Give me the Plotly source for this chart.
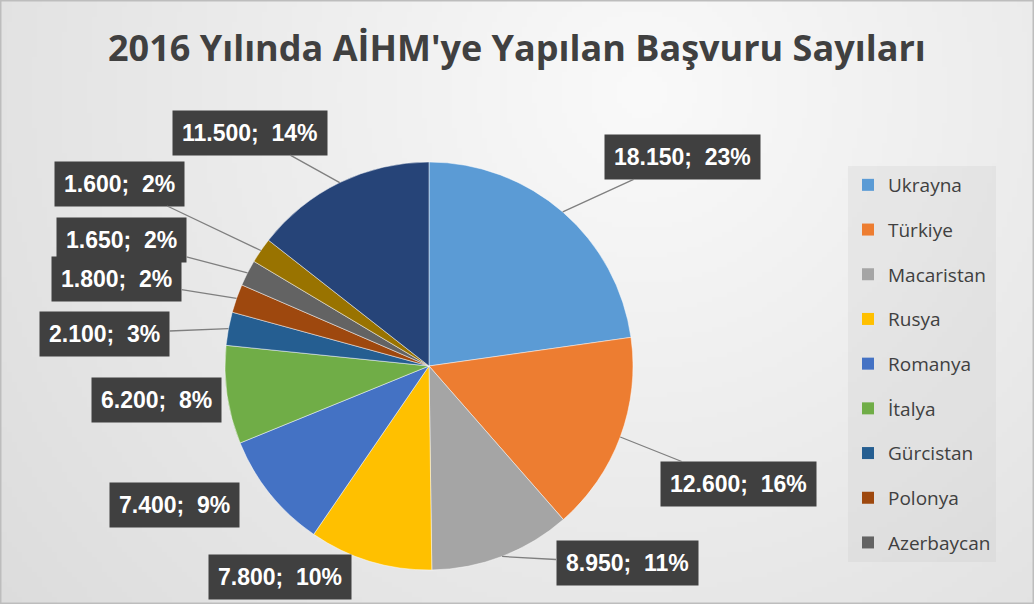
import math, zlib, struct, base64
import numpy as np
import plotly.graph_objects as go

# ---- data ----
countries = ["Ukrayna", "Türkiye", "Macaristan", "Rusya", "Romanya", "İtalya",
             "Gürcistan", "Polonya", "Azerbaycan", "Ermenistan", "Diğer"]
applications = [18150, 12600, 8950, 7800, 7400, 6200, 2100, 1800, 1650, 1600, 11500]
colors = ["#5B9BD5", "#ED7D31", "#A5A5A5", "#FFC000", "#4472C4", "#70AD47",
          "#255E91", "#9E480E", "#636363", "#997300", "#264478"]
legend_count = 9  # reference legend shows the first nine entries
title = "2016 Yılında AİHM'ye Yapılan Başvuru Sayıları"

# label offsets (pixels from slice edge anchor to label centre) and leader visibility
label_dx = [120, 118, 125, -90, -96, -71, -124, -120, -126, -141, -90]
label_dy = [-55, 47, 7, 16, 11, 5, 5, -19, -33, -67, -50]
leader = [True, True, True, False, False, False, True, True, True, True, True]

W, H = 1034, 604
cx, cy, R = 429, 366, 204  # pie centre/radius in pixels

# ---- gradient background as embedded PNG ----
gw, gh = 207, 121
yy, xx = np.mgrid[0:gh, 0:gw]
px_ = xx * W / gw
py_ = yy * H / gh
d = np.sqrt((px_ - 640) ** 2 + (py_ - 90) ** 2)
v = np.clip(250 - 0.036 * d, 0, 255).astype(np.uint8)
raw = b"".join(b"\x00" + bytes(np.repeat(row, 3)) for row in v)
def chunk(t, data):
    c = struct.pack(">I", len(data)) + t + data
    return c + struct.pack(">I", zlib.crc32(t + data) & 0xffffffff)
png = b"\x89PNG\r\n\x1a\n" + chunk(b"IHDR", struct.pack(">IIBBBBB", gw, gh, 8, 2, 0, 0, 0)) \
      + chunk(b"IDAT", zlib.compress(raw)) + chunk(b"IEND", b"")
bg_uri = "data:image/png;base64," + base64.b64encode(png).decode()

fig = go.Figure()
fig.add_trace(go.Pie(
    labels=countries, values=applications, sort=False, direction="clockwise",
    marker=dict(colors=colors, line=dict(color="rgba(255,255,255,0.6)", width=0.8)),
    textinfo="none", showlegend=False,
    domain=dict(x=[(cx - R) / W, (cx + R) / W], y=[1 - (cy + R) / H, 1 - (cy - R) / H]),
))

# legend entries
for i in range(legend_count):
    fig.add_trace(go.Scatter(x=[None], y=[None], mode="markers", name=countries[i],
                             legendgroup=countries[i],
                             marker=dict(symbol="square", size=12, color=colors[i])))

total = sum(applications)
cum = 0
annotations = []
for i, val in enumerate(applications):
    mid = (cum + val / 2) / total * 2 * math.pi
    cum += val
    ax_px = cx + R * math.sin(mid)
    ay_px = cy - R * math.cos(mid)
    pct = round(val / total * 100)
    txt = f"{val:,}".replace(",", ".") + f";  {pct}%"
    annotations.append(dict(
        x=ax_px / W, y=1 - ay_px / H, xref="paper", yref="paper",
        text=f"<b>{txt}</b>", showarrow=True, arrowhead=0, arrowwidth=1.3,
        arrowcolor="#7f7f7f" if leader[i] else "rgba(0,0,0,0)",
        ax=label_dx[i], ay=label_dy[i], bgcolor="#404040", borderpad=9,
        font=dict(family="Liberation Sans, Arial", size=23, color="white"),
    ))
annotations.append(dict(
    x=517 / W, y=1 - 48 / H, xref="paper", yref="paper", showarrow=False,
    xanchor="center", yanchor="middle",
    text=f"<b>{title}</b>",
    font=dict(family="Open Sans", size=36, color="#404040"),
))

fig.update_layout(
    width=W, height=H, margin=dict(l=0, r=0, t=0, b=0),
    paper_bgcolor="#ebebeb", plot_bgcolor="rgba(0,0,0,0)",
    xaxis=dict(visible=False), yaxis=dict(visible=False),
    images=[dict(source=bg_uri, xref="paper", yref="paper", x=0, y=1, sizex=1, sizey=1,
                 sizing="stretch", layer="below", xanchor="left", yanchor="top")],
    legend=dict(x=848 / W, y=1 - 166 / H, xanchor="left", yanchor="top",
                bgcolor="rgba(190,190,190,0.18)", tracegroupgap=17,
                font=dict(family="Open Sans", size=19, color="#404040"),
                itemwidth=30),
    annotations=annotations,
    shapes=[dict(type="rect", xref="paper", yref="paper", x0=0, y0=0, x1=1, y1=1,
                 line=dict(color="#bdbdbd", width=3))],
)

fig.write_html("out.html", config={"displayModeBar": False},
               post_script="document.body.style.margin='0';")
